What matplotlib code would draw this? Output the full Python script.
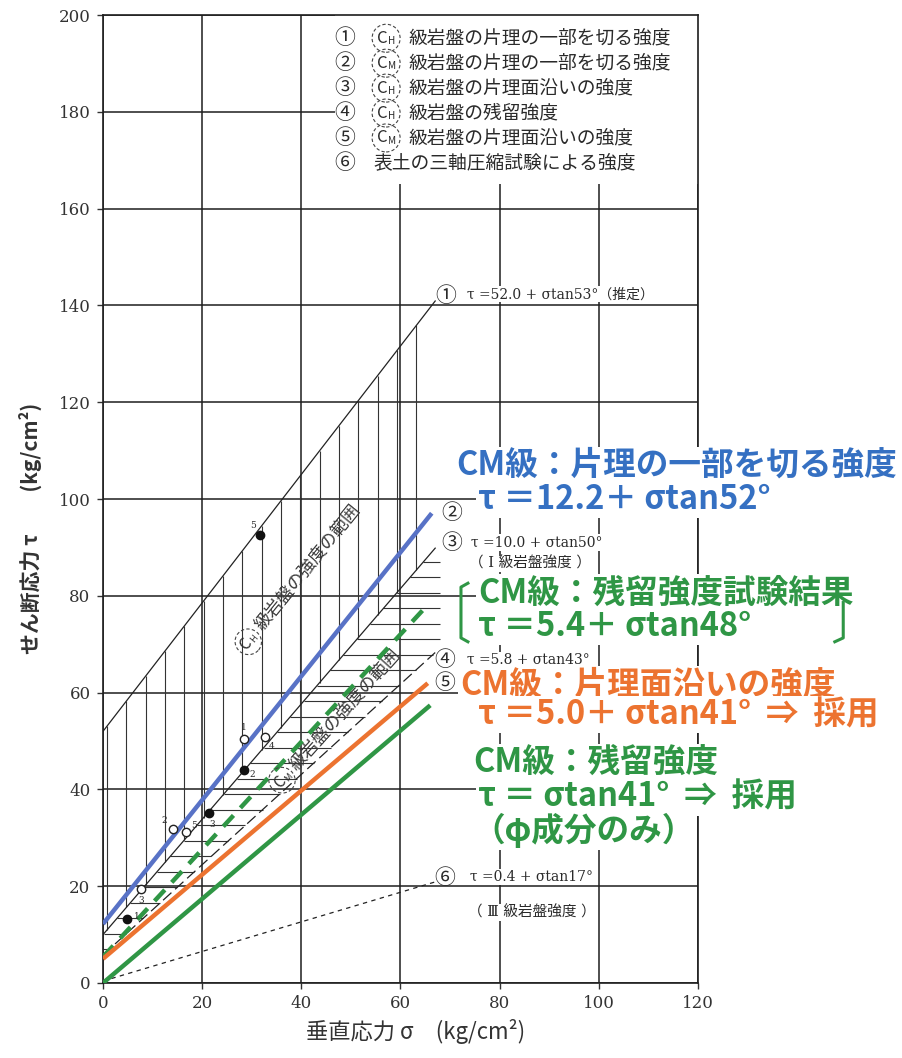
import numpy as np
import matplotlib
matplotlib.use('Agg')
import matplotlib.pyplot as plt
from matplotlib.patches import Ellipse

plt.rcParams['font.family'] = ['Noto Sans CJK JP', 'DejaVu Sans']

# 強度線  tau = c + sigma * tan(phi)
ref_no = ['①', '③', '④', '⑥']
ref_c = [52.0, 10.0, 5.8, 0.4]
ref_phi = [53, 50, 43, 17]

# CM級の線 (青, 緑破線, 橙, 緑)
cm_c = [12.2, 5.4, 5.0, 0.0]
cm_phi = [52, 48, 41, 41]

# 試験結果
open_sigma = [28.4, 32.7, 14.1, 16.7, 7.7]
open_tau = [50.4, 50.8, 31.8, 31.2, 19.4]
open_no = ['1', '4', '2', '5', '3']
solid_sigma = [31.7, 28.4, 21.4, 4.8]
solid_tau = [92.6, 44.0, 35.1, 13.2]
solid_no = ['5', '2', '3', '1']

x_ticks = [0, 20, 40, 60, 80, 100, 120]
y_ticks = [0, 20, 40, 60, 80, 100, 120, 140, 160, 180, 200]

legend_no = ['①', '②', '③', '④', '⑤', '⑥']
legend_grade = ['H', 'M', 'H', 'H', 'M', '']
legend_desc = ['級岩盤の片理の一部を切る強度', '級岩盤の片理の一部を切る強度',
               '級岩盤の片理面沿いの強度', '級岩盤の残留強度',
               '級岩盤の片理面沿いの強度', '表土の三軸圧縮試験による強度']

BLUE_LINE = '#5872c6'
BLUE = '#3570c2'
ORANGE = '#ec7330'
GREEN = '#2f9645'
INK = '#2a2a2a'
SERIF = ['DejaVu Serif', 'Noto Sans CJK JP']


def tau(c, phi, s):
    return c + np.asarray(s) * np.tan(np.radians(phi))


fig = plt.figure(figsize=(9.02, 10.58), dpi=100)
ax = fig.add_axes([0.1142, 0.0709, 0.6596, 0.9149])
ax.set_xlim(0, 120)
ax.set_ylim(0, 200)
ppx = ax.bbox.width / 120.0
ppy = ax.bbox.height / 200.0

ax.set_xticks(x_ticks)
ax.set_yticks(y_ticks)
ax.set_xticklabels([str(v) for v in x_ticks], fontfamily='DejaVu Serif')
ax.set_yticklabels([str(v) for v in y_ticks], fontfamily='DejaVu Serif')
ax.tick_params(labelsize=12, colors='#333333', length=4, width=1.0, pad=5)
ax.grid(True, color='#1e1e1e', lw=1.1, zorder=0.5)
ax.set_axisbelow(True)
for sp in ax.spines.values():
    sp.set_linewidth(1.2)
    sp.set_color('#1e1e1e')

s_end = 67.0

# CH級の範囲 (縦ハッチ) : ①と③の間
hx = np.arange(0.8, s_end, 3.9)
ax.vlines(hx, tau(ref_c[1], ref_phi[1], hx), tau(ref_c[0], ref_phi[0], hx),
          color='#333333', lw=0.8, zorder=1)

# CM級の範囲 (横ハッチ) : ③と④の間
hy = np.arange(7.0, 90.0, 3.2)
left = np.clip((hy - ref_c[1]) / np.tan(np.radians(ref_phi[1])), 0, None)
right = np.minimum((hy - ref_c[2]) / np.tan(np.radians(ref_phi[2])), s_end + 1)
keep = right > left
ax.hlines(hy[keep], left[keep], right[keep], color='#333333', lw=0.8, zorder=1)

# 黒の強度線
sig = np.linspace(0, s_end, 60)
ref_style = ['-', '-', (0, (9, 4)), (0, (3.5, 3.5))]
for c, phi, ls in zip(ref_c, ref_phi, ref_style):
    ax.plot(sig, tau(c, phi, sig), color='#222222', lw=0.9, ls=ls, zorder=2)

# CM級の線
cm_end = [66.3, 65.0, 65.5, 66.0]
cm_ls = ['-', (0, (3.4, 2.3)), '-', '-']
cm_col = [BLUE_LINE, GREEN, ORANGE, GREEN]
for c, phi, e, ls, col in zip(cm_c, cm_phi, cm_end, cm_ls, cm_col):
    s = np.linspace(0, e, 60)
    ax.plot(s, tau(c, phi, s), color=col, lw=3.2, ls=ls, zorder=3,
            solid_capstyle='butt')

# 試験点
ax.plot(open_sigma, open_tau, 'o', ms=6, mfc='white', mec='#222222', mew=1.0, zorder=4)
ax.plot(solid_sigma, solid_tau, 'o', ms=6, color='#111111', zorder=4)
open_off = [(0, 8), (5, -7), (-6, 6), (6, 5), (0, -8)]
solid_off = [(-5, 7), (6, -3), (2, -8), (7, 2)]
for s, t, n, o in zip(open_sigma, open_tau, open_no, open_off):
    ax.annotate(n, (s, t), xytext=o, textcoords='offset points', fontsize=6.5,
                ha='center', va='center', fontfamily='DejaVu Serif', color=INK, zorder=4)
for s, t, n, o in zip(solid_sigma, solid_tau, solid_no, solid_off):
    ax.annotate(n, (s, t), xytext=o, textcoords='offset points', fontsize=6.5,
                ha='center', va='center', fontfamily='DejaVu Serif', color=INK, zorder=4)


def grade_mark(x, y, g, ang=0.0, fs=12, r=14):
    # 点線の円で囲んだ C_H / C_M
    a = np.radians(ang)
    ca, sa = np.cos(a), np.sin(a)

    def off(p, q):
        return x + (p * ca - q * sa) / ppx, y + (p * sa + q * ca) / ppy

    ax.add_patch(Ellipse((x, y), 2 * r / ppx, 2 * r / ppy, angle=ang, fill=False,
                         ls=(0, (3, 2)), lw=0.8, ec='#444444', clip_on=False, zorder=6))
    ax.text(*off(-3.5, 0), 'C', rotation=ang, rotation_mode='anchor', ha='center',
            va='center', fontsize=fs, color=INK, zorder=6)
    ax.text(*off(6, -3), g, rotation=ang, rotation_mode='anchor', ha='center',
            va='center', fontsize=fs * 0.6, color=INK, zorder=6)


def range_label(x, y, g, ang):
    # 円付きの記号と、その後に続く斜めの文字
    grade_mark(x, y, g, ang=ang, fs=11, r=13)
    a = np.radians(ang)
    d = 17
    ax.text(x + d * np.cos(a) / ppx, y + d * np.sin(a) / ppy, '級岩盤の強度の範囲',
            rotation=ang, rotation_mode='anchor', ha='left', va='center',
            fontsize=12.5, color='#3a3a3a', zorder=2.5)


# 凡例 (右上)
ax.add_patch(plt.Rectangle((46.8, 165), 73.2, 35, fc='white', ec='none', zorder=1.5))
for i, (no, g, d) in enumerate(zip(legend_no, legend_grade, legend_desc)):
    yy = 195.2 - 5.15 * i
    ax.text(48.8, yy, no, fontsize=15, ha='center', va='center', color=INK, zorder=6)
    if g:
        grade_mark(57.1, yy, g, fs=12)
        ax.text(61.6, yy, d, fontsize=13.5, va='center', color=INK, zorder=6)
    else:
        ax.text(54.6, yy, d, fontsize=13.5, va='center', color=INK, zorder=6)

# 線番号と式
white = dict(facecolor='white', edgecolor='none', pad=0.8)
circ_pos = [(69.2, 142.0), (70.4, 97.1), (70.4, 90.9), (69.0, 66.7), (69.0, 62.0), (69.0, 21.7)]
for no, (x, y) in zip(legend_no, circ_pos):
    ax.text(x, y, no, fontsize=15, ha='center', va='center', color=INK, zorder=6)

ax.text(73.4, 142.3, 'τ =52.0 + σtan53°（推定）', fontsize=10, va='center',
        family=SERIF, color=INK, zorder=6, bbox=white)
ax.text(74.2, 91.0, 'τ =10.0 + σtan50°', fontsize=10, va='center',
        family=SERIF, color=INK, zorder=6, bbox=white)
ax.text(73.8, 86.6, '（ Ⅰ 級岩盤強度 ）', fontsize=10.5, va='center',
        family=SERIF, color=INK, zorder=6, bbox=white)
ax.text(73.4, 66.8, 'τ =5.8 + σtan43°', fontsize=10, va='center',
        family=SERIF, color=INK, zorder=6, bbox=white)
ax.text(74.0, 21.9, 'τ =0.4 + σtan17°', fontsize=10, va='center',
        family=SERIF, color=INK, zorder=6, bbox=white)
ax.text(73.6, 14.5, '（ Ⅲ 級岩盤強度 ）', fontsize=10.5, va='center',
        family=SERIF, color=INK, zorder=6, bbox=white)

# 範囲の説明 (斜め)
range_label(29.3, 70.5, 'H', 51)
range_label(36.1, 41.9, 'M', 48)

# 色付きの注記
wb = dict(facecolor='white', edgecolor='none', pad=1.5)
big = dict(fontsize=23.5, fontweight='bold', va='center', zorder=7, bbox=wb)
ax.text(71.2, 107.0, 'CM級：片理の一部を切る強度', color=BLUE, **big)
ax.text(75.6, 99.8, 'τ ＝12.2＋ σtan52°', color=BLUE, **big)
ax.text(75.6, 80.6, 'CM級：残留強度試験結果', color=GREEN, **big)
ax.text(75.6, 73.6, 'τ ＝5.4＋ σtan48°', color=GREEN, **big)
ax.text(72.0, 61.6, 'CM級：片理面沿いの強度', color=ORANGE, **big)
ax.text(75.6, 55.4, 'τ ＝5.0＋ σtan41°  ⇒  採用', color=ORANGE, **big)
ax.text(74.6, 45.5, 'CM級：残留強度', color=GREEN, **big)
ax.text(75.6, 38.4, 'τ ＝ σtan41°  ⇒  採用', color=GREEN, **big)
ax.text(74.6, 31.6, '（φ成分のみ）', color=GREEN, **big)

# 緑の括弧
ax.plot([73.6, 72.2, 72.2, 73.6], [82.6, 81.8, 71.3, 70.5], color=GREEN, lw=2.2,
        clip_on=False, zorder=8, solid_joinstyle='round')
ax.plot([149.3, 149.3, 147.6], [78.6, 71.3, 70.5], color=GREEN, lw=2.2,
        clip_on=False, zorder=8, solid_joinstyle='round')

fig.text(30 / 902, 1 - 528 / 1058, 'せん断応力 τ　　(kg/cm²)', rotation=90,
         ha='center', va='center', fontsize=15, fontweight='bold', color='#333333')
fig.text(416 / 902, 1 - 1032 / 1058, '垂直応力 σ　(kg/cm²)', ha='center',
         va='center', fontsize=16, color='#333333')

fig.savefig('out.png', dpi=100, facecolor='white')
